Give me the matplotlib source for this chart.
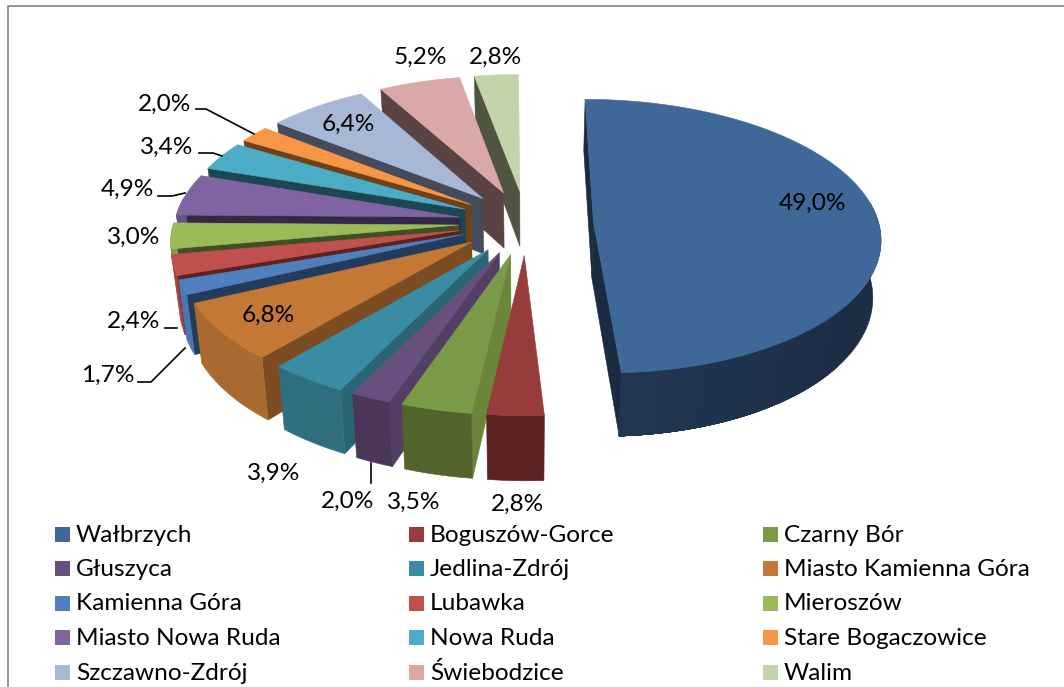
import numpy as np
import matplotlib
matplotlib.use("Agg")
import matplotlib.pyplot as plt
from matplotlib.colors import to_rgb
from matplotlib.patches import Polygon, Rectangle

plt.rcParams['font.family'] = ['Lato', 'DejaVu Sans']

# data, clockwise from 12 o'clock
gminy = ["Wałbrzych", "Boguszów-Gorce", "Czarny Bór", "Głuszyca", "Jedlina-Zdrój",
         "Miasto Kamienna Góra", "Kamienna Góra", "Lubawka", "Mieroszów",
         "Miasto Nowa Ruda", "Nowa Ruda", "Stare Bogaczowice", "Szczawno-Zdrój",
         "Świebodzice", "Walim"]
udzial = [49.0, 2.8, 3.5, 2.0, 3.9, 6.8, 1.7, 2.4, 3.0, 4.9, 3.4, 2.0, 6.4, 5.2, 2.8]

top_colors = ["#3f6898", "#963d3b", "#7b9a48", "#67507f", "#3a8ca4", "#c47835", "#4f80bd", "#c0504d",
              "#9bbb59", "#8064a2", "#4bacc6", "#f79646", "#a7b8d7", "#d9a8a7", "#c4d4a9"]
radial_colors = ["#1b2b41", "#7a3633", "#6b853a", "#523f63", "#2a6576", "#7c4c22", "#233b5c", "#5a2321",
                 "#414f25", "#35294a", "#1d4652", "#704016", "#444c5b", "#5a4443", "#4f5541"]
outer_colors = ["#1c2d44", "#5c2220", "#52632b", "#4a3659", "#2f6f80", "#a96a2f", "#4a77b0", "#a8413f",
                "#7f9a49", "#6a5386", "#3f8fa5", "#c97a39", "#8a98b3", "#b58c8b", "#a3b08c"]

# label anchor points in pixels
label_xy = [(813, 203), (518, 504), (414, 502), (348, 501), (274, 473), (268, 315), (108, 375), (134, 321),
            (134, 237), (127, 189), (167, 147), (165, 104), (348, 124), (420, 57), (496, 57)]
leaders = [[(138, 382), (151, 382), (185, 348)],
           [(165, 328), (177, 328)],
           [(158, 196), (172, 196), (185, 193)],
           [(199, 153), (213, 153), (222, 156)],
           [(196, 109), (206, 109), (254, 134)],
           [(371, 463), (371, 483)]]

# pie geometry, fitted by eye against the picture
CX, CY = 526, 222.5
R, A = 285, 135.5
K = 0.107
SHEAR = 1.8
DEPTH = 56.5
EXPLODE = 0.237
VANISH_X, BOTTOM_SHRINK = 525, 0.977
FS = 17.6


def project(u, v):
    s = 1 / (1 + K * v)
    return CX + R * u * s - SHEAR * v, CY - A * v * s, DEPTH * s


def floor_x(x):
    # the underside of the pie is a little narrower than the top
    return VANISH_X + (x - VANISH_X) * BOTTOM_SHRINK


def face(ax, pts, color, z):
    ax.add_patch(Polygon(pts, closed=True, facecolor=color, edgecolor=color, lw=0.4, zorder=z))


def wall_poly(x, y, d):
    return list(zip(x, y)) + list(zip(floor_x(x[::-1]), (y + d)[::-1]))


def radial_wall(ax, xa, ya, da, xe, ye, de, color, z):
    face(ax, [(xa, ya), (xe, ye), (floor_x(xe), ye + de), (floor_x(xa), ya + da)], color, z)


def draw_slice(ax, t0, t1, i, z):
    mid = (t0 + t1) / 2
    ax0, ay0 = EXPLODE * np.sin(mid), EXPLODE * np.cos(mid)
    th = np.linspace(t0, t1, max(int((t1 - t0) * 60), 6))
    x, y, d = project(ax0 + np.sin(th), ay0 + np.cos(th))
    xa, ya, da = project(ax0, ay0)

    # radial walls, only those turned to the viewer
    if np.sin(t0) < 1e-6:
        radial_wall(ax, xa, ya, da, x[0], y[0], d[0], radial_colors[i], z)
    if np.sin(t1) > 1e-6:
        radial_wall(ax, xa, ya, da, x[-1], y[-1], d[-1], radial_colors[i], z)
    # outer wall, only the part facing the viewer
    front = np.cos(th) < 0.15
    if front.sum() > 1:
        face(ax, wall_poly(x[front], y[front], d[front]), outer_colors[i], z + 0.1)
    # the large slice gets lighter towards its end, in nested bands so no seams show
    if t1 - t0 > np.pi / 2:
        for k, deg in enumerate(range(125, 175, 4)):
            band = th >= np.radians(deg)
            f = 1 + 0.016 * (k + 1)
            col = tuple(min(c * f, 1) for c in to_rgb(outer_colors[i]))
            face(ax, wall_poly(x[band], y[band], d[band]), col, z + 0.11 + k * 0.005)
    # top
    face(ax, [(xa, ya)] + list(zip(x, y)), top_colors[i], z + 0.2)


fig = plt.figure(figsize=(10.64, 6.87), dpi=100)
ax = fig.add_axes([0, 0, 1, 1])
ax.set_xlim(0, 1064)
ax.set_ylim(687, 0)
ax.axis("off")

# chart frame, cut off by the screenshot on the right and at the bottom
ax.plot([7.5, 7.5, 1064], [687, 5.5, 5.5], color="#8c8c8c", lw=1.3, zorder=1)

shares = np.array(udzial) / sum(udzial)
edges = np.concatenate([[0], np.cumsum(shares)]) * 2 * np.pi
mids = (edges[:-1] + edges[1:]) / 2
# back slices first
for z, i in enumerate(np.argsort(-np.cos(mids))):
    draw_slice(ax, edges[i], edges[i + 1], i, 2 + z)

for val, (lx, ly) in zip(udzial, label_xy):
    ax.text(lx, ly, f"{val:.1f}".replace(".", ",") + "%", ha="center", va="center",
            fontsize=FS, color="black", zorder=40)
for line in leaders:
    xs, ys = zip(*line)
    ax.plot(xs, ys, color="black", lw=1.2, zorder=30)

# legend, three columns row by row
col_x = [55, 409, 763]
row_y = [534.5, 568.5, 603, 637.5, 672]
for i, name in enumerate(gminy):
    cx, cy = col_x[i % 3], row_y[i // 3]
    ax.add_patch(Rectangle((cx, cy - 7.5), 15, 15, facecolor=top_colors[i], edgecolor="none", zorder=30))
    ax.text(cx + 21, cy + 1, name, ha="left", va="center", fontsize=FS, color="black", zorder=40)

fig.savefig("out.png", dpi=100)
